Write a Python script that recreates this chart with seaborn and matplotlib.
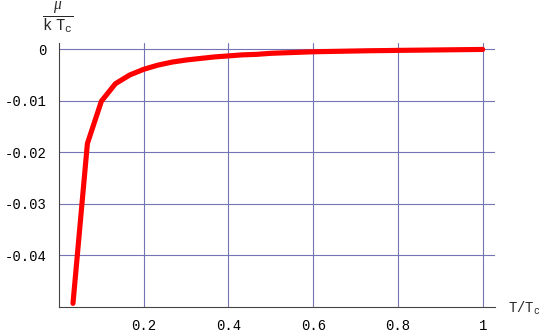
import matplotlib
matplotlib.use("Agg")
import matplotlib.pyplot as plt
import seaborn as sns
from matplotlib.ticker import FixedLocator, FixedFormatter, MultipleLocator

T = [0.033, 0.067, 0.1, 0.133, 0.167, 0.2, 0.233, 0.267, 0.3, 0.333,
     0.367, 0.4, 0.433, 0.467, 0.5, 0.533, 0.567, 0.6, 0.633, 0.667,
     0.7, 0.733, 0.767, 0.8, 0.833, 0.867, 0.9, 0.933, 0.967, 1.0]
mu = [-0.0493, -0.0183, -0.0101, -0.0067, -0.0050, -0.0039, -0.0031, -0.0025,
      -0.0021, -0.0018, -0.0015, -0.0013, -0.0011, -0.0010, -0.0008, -0.0007,
      -0.0006, -0.0005, -0.00045, -0.0004, -0.00035, -0.0003, -0.00027, -0.00023,
      -0.0002, -0.00017, -0.00014, -0.00011, -0.00008, -0.00005]

xticks = [0.2, 0.4, 0.6, 0.8, 1.0]
xticklabels = ["0.2", "0.4", "0.6", "0.8", "1"]
yticks = [0, -0.01, -0.02, -0.03, -0.04]
yticklabels = ["0", "-0.01", "-0.02", "-0.03", "-0.04"]

sns.set_style("white")
plt.rcParams["font.family"] = ["Liberation Mono", "DejaVu Sans"]
plt.rcParams["mathtext.fontset"] = "custom"
plt.rcParams["mathtext.rm"] = "Liberation Mono"
plt.rcParams["mathtext.it"] = "Liberation Serif:italic"
plt.rcParams["axes.unicode_minus"] = False

fig = plt.figure(figsize=(5.45, 3.36), dpi=100)
ax = fig.add_axes([59 / 545, 29 / 336, 436 / 545, 264 / 336])

grid_c = "#7474b4"
for x in xticks:
    ax.axvline(x, color=grid_c, lw=0.8, zorder=1)
for y in yticks:
    ax.axhline(y, color=grid_c, lw=0.8, zorder=1)

sns.lineplot(x=T, y=mu, color="#ff0000", lw=3.7, ax=ax, zorder=3,
             solid_capstyle="round", solid_joinstyle="round")

ax.set_xlim(0, 1.029)
ax.set_ylim(-0.05, 0.0012)

ax.xaxis.set_major_locator(FixedLocator(xticks))
ax.xaxis.set_major_formatter(FixedFormatter(xticklabels))
ax.yaxis.set_major_locator(FixedLocator(yticks))
ax.yaxis.set_major_formatter(FixedFormatter(yticklabels))
ax.yaxis.set_minor_locator(MultipleLocator(0.002))

ax.tick_params(axis="both", which="major", direction="in", length=5,
               width=0.8, color="#888888", labelsize=10, labelcolor="black")
ax.tick_params(axis="x", pad=9)
ax.tick_params(axis="y", pad=9)
ax.tick_params(axis="y", which="minor", direction="in", length=3,
               width=0.7, color="#999999")

for side in ["top", "right"]:
    ax.spines[side].set_visible(False)
for side in ["left", "bottom"]:
    ax.spines[side].set_color("#444444")
    ax.spines[side].set_linewidth(0.8)

ax.set_xlabel("")
ax.set_ylabel("")

fig.text(524 / 545, 1 - 308 / 336, r"$\mathrm{T/T}_{\mathrm{c}}$",
         ha="center", va="center", fontsize=10)
fig.text(58 / 545, 1 - 18 / 336, r"$\frac{\mu}{\mathrm{k\ T}_{\mathrm{c}}}$",
         ha="center", va="center", fontsize=16)

fig.savefig("out.png", dpi=100)
